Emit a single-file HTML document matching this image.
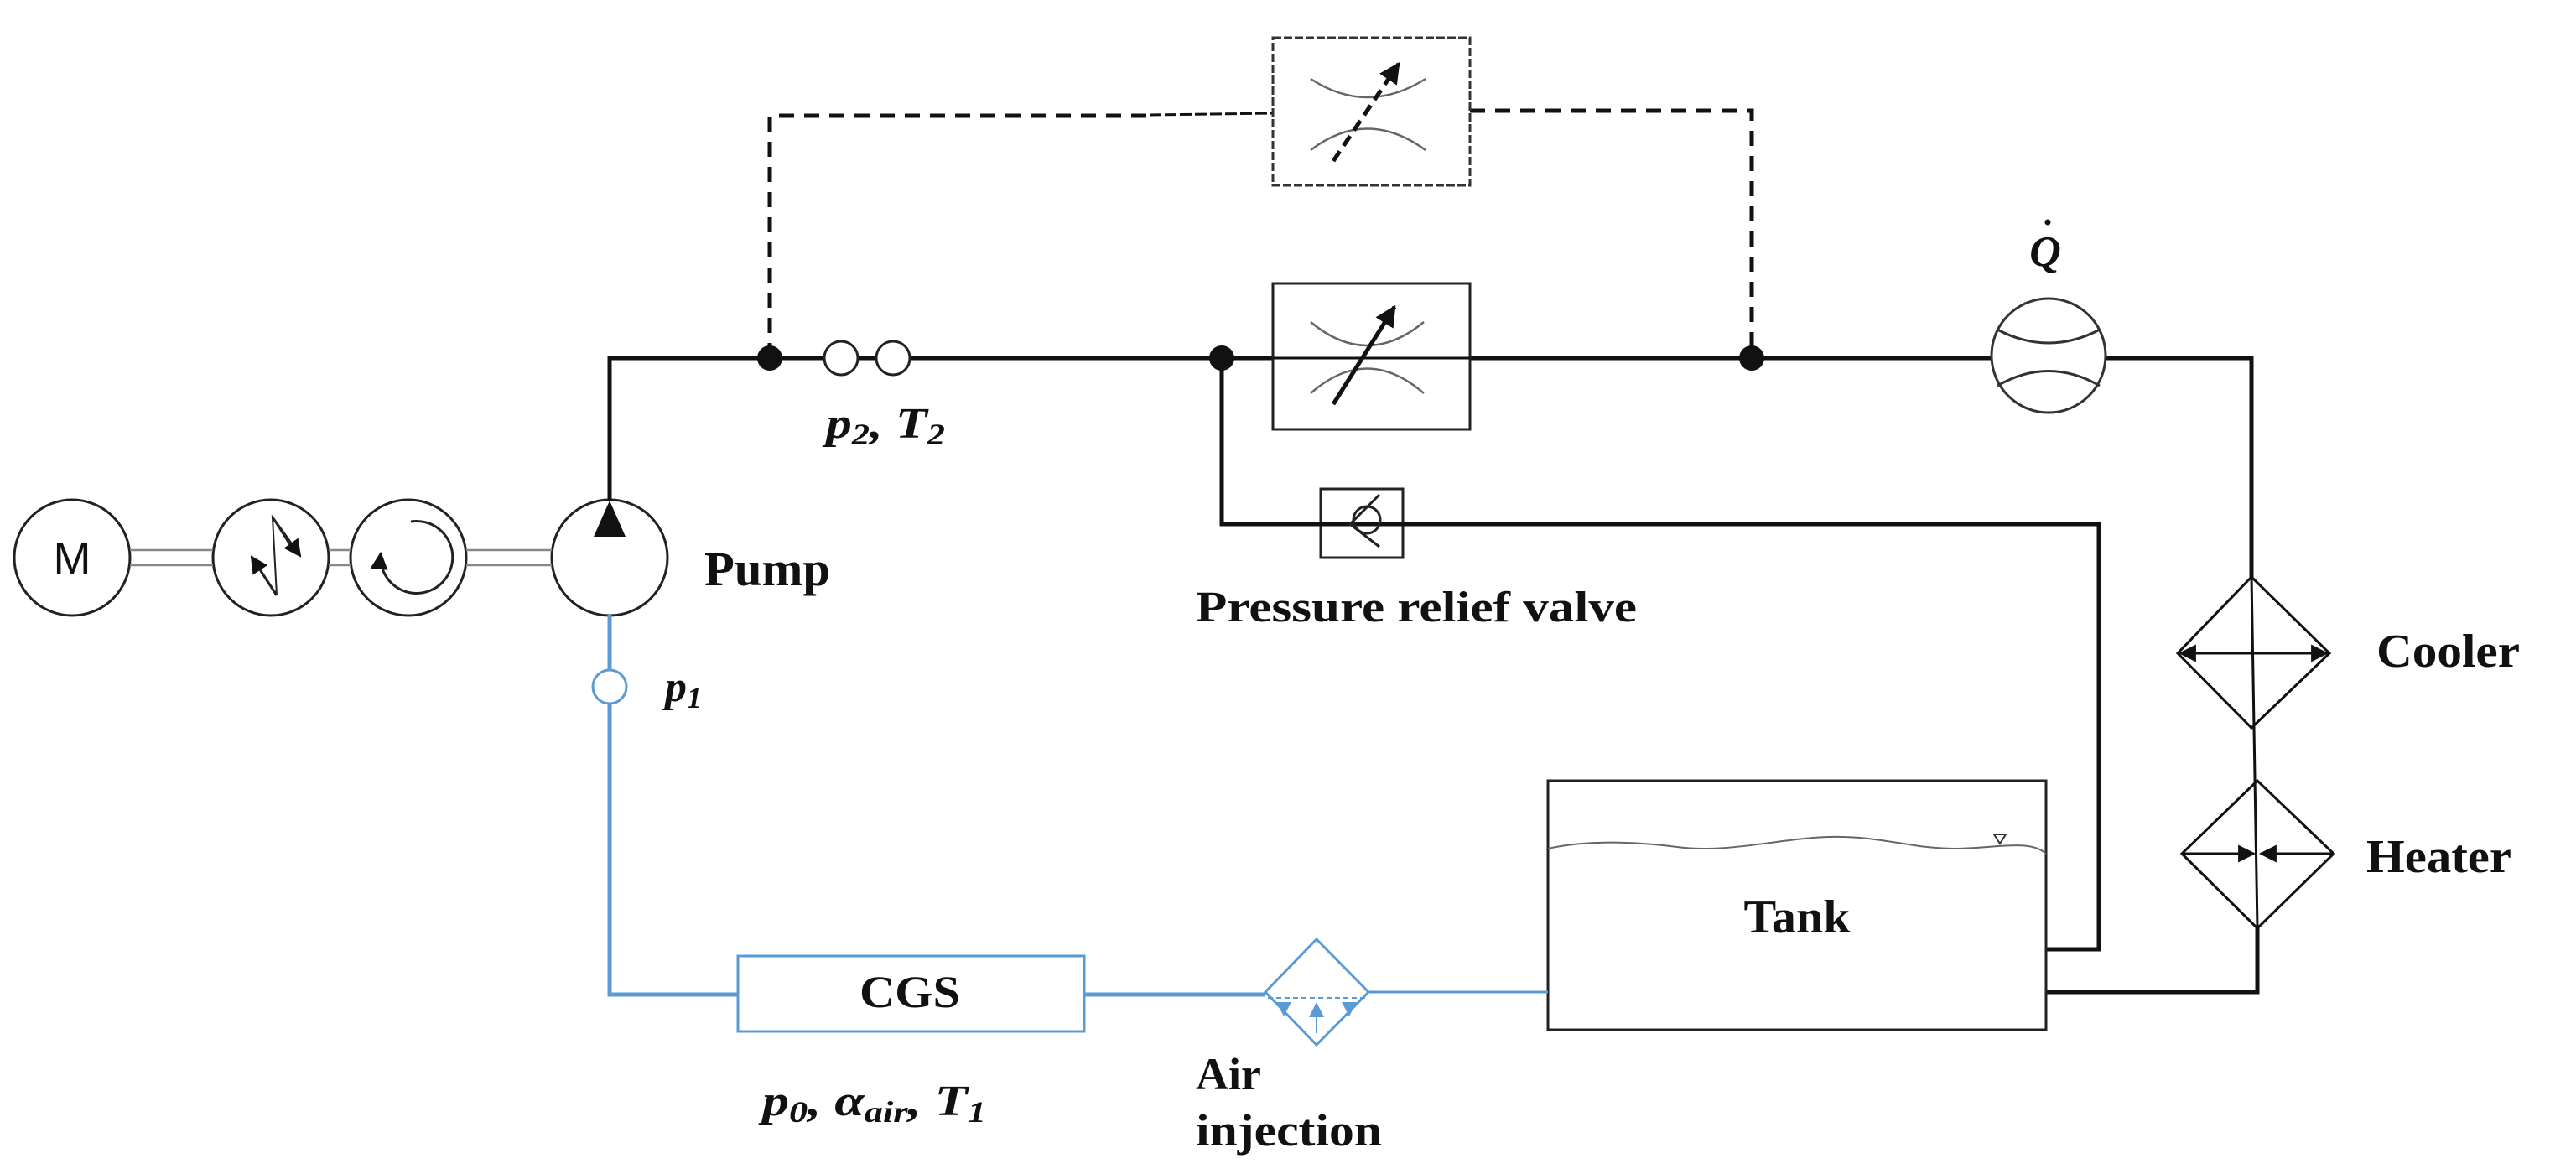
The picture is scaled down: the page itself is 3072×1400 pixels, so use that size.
<!DOCTYPE html>
<html><head><meta charset="utf-8"><style>
html,body{margin:0;padding:0;background:#fff;}
svg{display:block;}
text{font-family:"Liberation Serif",serif;font-weight:bold;fill:#111;}
</style></head><body>
<svg width="3072" height="1400" viewBox="0 0 3072 1400" xmlns="http://www.w3.org/2000/svg">
<defs>
<marker id="ah" viewBox="0 0 10 10" refX="9" refY="5" markerWidth="5" markerHeight="5" orient="auto-start-reverse"><path d="M0,0 L10,5 L0,10 z" fill="#111"/></marker>
<marker id="ahs" viewBox="0 0 10 10" refX="9" refY="5" markerWidth="7" markerHeight="7" orient="auto-start-reverse"><path d="M0,0 L10,5 L0,10 z" fill="#111"/></marker>
</defs>
<g fill="none" stroke="#222" stroke-width="3">
<!-- motor chain -->
<circle cx="86" cy="665" r="69"/>
<circle cx="323" cy="665" r="69"/>
<circle cx="487" cy="665" r="69"/>
<circle cx="727" cy="665" r="69"/>
</g>
<text x="86" y="684" text-anchor="middle" style="font-family:'Liberation Sans',sans-serif;font-weight:normal;font-size:54px">M</text>
<g stroke="#888" stroke-width="2.5">
<line x1="155" y1="656" x2="254" y2="656"/><line x1="155" y1="674" x2="254" y2="674"/>
<line x1="392" y1="656" x2="418" y2="656"/><line x1="392" y1="674" x2="418" y2="674"/>
<line x1="556" y1="656" x2="658" y2="656"/><line x1="556" y1="674" x2="658" y2="674"/>
</g>
<!-- zigzag -->
<polyline points="296,610 330,618 332,710 308,700" fill="none" stroke="#222" stroke-width="2" style="display:none"/>
<path d="M330,710 L325,617 L352,660" fill="none" stroke="#222" stroke-width="2"/>
<line x1="330" y1="710" x2="300" y2="664" stroke="#222" stroke-width="3" marker-end="url(#ahs)"/>
<line x1="325" y1="617" x2="358" y2="663" stroke="#222" stroke-width="3" marker-end="url(#ahs)"/>
<!-- rotation -->
<path d="M490,622 A43,43 0 1 1 454,660" fill="none" stroke="#222" stroke-width="3" marker-end="url(#ahs)"/>
<!-- pump triangle -->
<polygon points="727,597 708,640 746,640" fill="#111"/>
<!-- main black lines -->
<g fill="none" stroke="#111" stroke-width="5">
<polyline points="727,597 727,427 2378,427"/>
<polyline points="2512,427 2685,427 2685,688"/>
<polyline points="1457,427 1457,625 2503,625 2503,1132 2440,1132"/>
<polyline points="2692,1107 2692,1183 2440,1183"/>
</g>
<line x1="2685" y1="688" x2="2692" y2="1107" stroke="#111" stroke-width="3"/>
<!-- dashed pilot -->
<g fill="none" stroke="#111" stroke-width="5" stroke-dasharray="18,12">
<polyline points="918,427 918,138 1371,138"/>
<polyline points="1753,132 2089,132 2089,427"/>
</g>
<line x1="1371" y1="137" x2="1518" y2="135" stroke="#111" stroke-width="3" stroke-dasharray="14,4"/>
<circle cx="918" cy="427" r="15" fill="#111"/>
<circle cx="1457" cy="427" r="15" fill="#111"/>
<circle cx="2089" cy="427" r="15" fill="#111"/>
<circle cx="1003" cy="427" r="20" fill="#fff" stroke="#222" stroke-width="3"/>
<circle cx="1065" cy="427" r="20" fill="#fff" stroke="#222" stroke-width="3"/>
<!-- throttle boxes -->
<rect x="1518" y="45" width="235" height="176" fill="none" stroke="#333" stroke-width="3" stroke-dasharray="10,3"/>
<rect x="1518" y="338" width="235" height="174" fill="#fff" stroke="#222" stroke-width="3"/>
<line x1="1518" y1="427" x2="1753" y2="427" stroke="#111" stroke-width="3"/>
<g fill="none" stroke="#666" stroke-width="2.5">
<path d="M1563,94 Q1630,138 1700,94"/><path d="M1563,179 Q1630,128 1700,179"/>
<path d="M1563,384 Q1630,440 1698,384"/><path d="M1563,469 Q1630,410 1698,469"/>
</g>
<line x1="1590" y1="192" x2="1668" y2="76" stroke="#111" stroke-width="5" stroke-dasharray="14,8" marker-end="url(#ah)"/>
<line x1="1590" y1="482" x2="1663" y2="366" stroke="#111" stroke-width="5" marker-end="url(#ah)"/>
<!-- relief valve -->
<rect x="1575" y="583" width="98" height="82" fill="#fff" stroke="#222" stroke-width="3"/>
<line x1="1457" y1="625" x2="2503" y2="625" stroke="#111" stroke-width="5"/>
<circle cx="1630" cy="620" r="16" fill="none" stroke="#222" stroke-width="3"/>
<polyline points="1645,590 1610,625 1645,652" fill="none" stroke="#222" stroke-width="3"/>
<!-- flowmeter -->
<circle cx="2443" cy="424" r="68" fill="#fff" stroke="#333" stroke-width="3"/>
<path d="M2382,393 Q2443,425 2504,393" fill="none" stroke="#333" stroke-width="3"/>
<path d="M2382,460 Q2443,425 2504,460" fill="none" stroke="#333" stroke-width="3"/>
<!-- cooler -->
<polygon points="2685,688 2778,779 2685,868 2597,779" fill="none" stroke="#111" stroke-width="3"/>
<line x1="2600" y1="779" x2="2775" y2="779" stroke="#111" stroke-width="3" marker-start="url(#ahs)" marker-end="url(#ahs)"/>
<!-- heater -->
<polygon points="2692,931 2783,1018 2692,1107 2602,1018" fill="none" stroke="#111" stroke-width="3"/>
<line x1="2604" y1="1018" x2="2688" y2="1018" stroke="#111" stroke-width="3" marker-end="url(#ahs)"/>
<line x1="2781" y1="1018" x2="2696" y2="1018" stroke="#111" stroke-width="3" marker-end="url(#ahs)"/>
<!-- tank -->
<rect x="1846" y="931" width="594" height="297" fill="none" stroke="#222" stroke-width="3"/>
<path d="M1846,1012 C1900,1000 1960,1005 2000,1010 C2060,1018 2120,1000 2180,998 C2240,996 2280,1012 2330,1012 C2380,1012 2420,1000 2440,1018" fill="none" stroke="#666" stroke-width="2"/>
<polygon points="2378,995 2392,995 2385,1006" fill="none" stroke="#333" stroke-width="2"/>
<!-- blue suction -->
<g fill="none" stroke="#5b9bd5" stroke-width="5">
<polyline points="727,733 727,799"/>
<polyline points="727,839 727,1186 880,1186"/>
<line x1="1293" y1="1186" x2="1509" y2="1186"/>
</g>
<line x1="1632" y1="1183" x2="1846" y2="1183" stroke="#5b9bd5" stroke-width="3"/>
<circle cx="727" cy="819" r="20" fill="#fff" stroke="#5b9bd5" stroke-width="3"/>
<rect x="880" y="1140" width="413" height="90" fill="#fff" stroke="#5b9bd5" stroke-width="3"/>
<polygon points="1570,1120 1632,1183 1570,1246 1509,1183" fill="#fff" stroke="#5b9bd5" stroke-width="3"/>
<line x1="1512" y1="1190" x2="1629" y2="1190" stroke="#5b9bd5" stroke-width="2" stroke-dasharray="6,4"/>
<polygon points="1570,1195 1561,1213 1579,1213" fill="#5b9bd5"/>
<line x1="1570" y1="1210" x2="1570" y2="1232" stroke="#5b9bd5" stroke-width="2"/>
<polygon points="1522,1195 1540,1195 1531,1212" fill="#5b9bd5"/>
<polygon points="1600,1195 1618,1195 1609,1212" fill="#5b9bd5"/>
<!-- labels -->
<text x="840" y="698" font-size="58" textLength="150" lengthAdjust="spacingAndGlyphs">Pump</text>
<text x="985" y="522" font-size="52" font-style="italic" textLength="142" lengthAdjust="spacingAndGlyphs">p<tspan font-size="36" dy="8">2</tspan><tspan dy="-8">, T</tspan><tspan font-size="36" dy="8">2</tspan></text>
<text x="793" y="836" font-size="52" font-style="italic">p<tspan font-size="36" dy="8">1</tspan></text>
<text x="1085" y="1201" font-size="54" text-anchor="middle" textLength="120" lengthAdjust="spacingAndGlyphs">CGS</text>
<text x="909" y="1330" font-size="52" font-style="italic" textLength="267" lengthAdjust="spacingAndGlyphs">p<tspan font-size="36" dy="8">0</tspan><tspan dy="-8">, α</tspan><tspan font-size="36" dy="8">air</tspan><tspan dy="-8">, T</tspan><tspan font-size="36" dy="8">1</tspan></text>
<text x="1426" y="1299" font-size="54">Air</text>
<text x="1426" y="1366" font-size="54" textLength="222" lengthAdjust="spacingAndGlyphs">injection</text>
<text x="1426" y="741" font-size="52" textLength="526" lengthAdjust="spacingAndGlyphs">Pressure relief valve</text>
<text x="2439" y="317" font-size="52" font-style="italic" text-anchor="middle">Q</text>
<circle cx="2442" cy="265" r="3.5" fill="#111"/>
<text x="2834" y="795" font-size="56" textLength="171" lengthAdjust="spacingAndGlyphs">Cooler</text>
<text x="2822" y="1040" font-size="56" textLength="173" lengthAdjust="spacingAndGlyphs">Heater</text>
<text x="2143" y="1112" font-size="56" text-anchor="middle" textLength="127" lengthAdjust="spacingAndGlyphs">Tank</text>
</g>
</svg>
</body></html>
